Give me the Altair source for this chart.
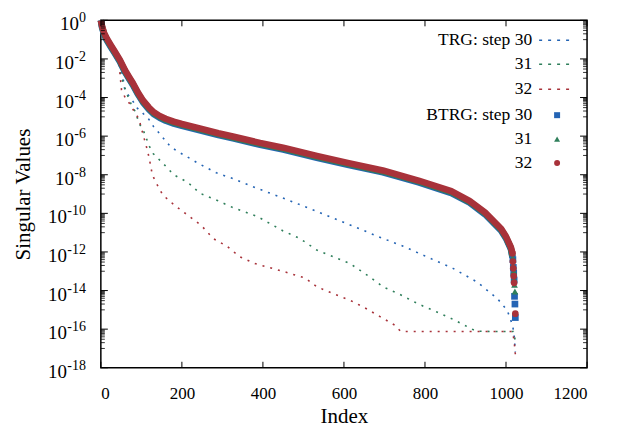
import altair as alt
import pandas as pd

# ---------------- data (values are log10 of singular value) ----------------
trg30_idx = [0, 3, 8, 15, 25, 34, 45, 50, 55, 58, 65, 80, 90, 100, 116, 130, 150, 172, 190, 207, 244, 285,
             326, 385, 449, 533, 615, 696, 746, 788, 869, 928, 978, 1002, 1010, 1017, 1020, 1023]
trg30_log = [0.0, -0.3, -0.65, -0.95, -1.3, -1.6, -2.1, -2.45, -3.0, -3.5, -3.8, -4.22, -4.55, -4.75, -5.05,
             -5.5, -6.0, -6.55, -6.8, -7.0, -7.45, -7.9, -8.2, -8.7, -9.2, -9.9, -10.6, -11.3, -11.7, -12.1,
             -12.85, -13.55, -14.4, -15.0, -15.4, -15.9, -16.3, -17.2]

trg31_idx = [0, 3, 8, 15, 25, 34, 45, 49, 56, 64, 74, 84, 96, 104, 113, 119, 129, 153, 180, 215, 244, 289,
             326, 385, 449, 491, 533, 615, 664, 696, 738, 784, 828, 870, 907, 926, 960, 1018, 1023]
trg31_log = [0.0, -0.3, -0.65, -0.95, -1.3, -1.6, -2.2, -2.75, -3.3, -3.8, -4.3, -4.7, -5.4, -5.65, -6.15,
             -6.5, -6.9, -7.4, -8.0, -8.4, -8.95, -9.35, -9.7, -10.15, -10.9, -11.3, -11.9, -12.6, -13.3,
             -13.8, -14.2, -14.7, -15.1, -15.5, -15.9, -16.1, -16.12, -16.12, -16.6]

trg32_idx = [0, 3, 8, 15, 25, 34, 45, 51, 60, 74, 84, 94, 104, 112, 119, 127, 136, 153, 183, 215, 249, 277,
             311, 343, 380, 449, 504, 533, 578, 615, 652, 689, 726, 740, 1016, 1020, 1023]
trg32_log = [0.0, -0.3, -0.65, -0.95, -1.3, -1.6, -2.3, -3.6, -4.0, -4.4, -4.8, -5.1, -5.9, -6.5, -7.1,
             -8.0, -8.4, -9.05, -9.6, -10.1, -10.65, -11.3, -11.7, -12.25, -12.6, -13.0, -13.35, -13.8,
             -14.2, -14.5, -14.9, -15.35, -15.8, -16.12, -16.12, -16.6, -17.3]

# BTRG: dense band (continuous part) ...
btrg_idx = [0, 3, 8, 15, 25, 34, 47, 60, 70, 79, 92, 104, 118, 130, 145, 160, 180, 200, 244, 290, 326,
            393, 450, 533, 612, 696, 784, 865, 910, 948, 988, 1000, 1012, 1016]
btrg30_log = [0.0, -0.38, -0.75, -1.05, -1.4, -1.7, -2.15, -2.7, -3.05, -3.35, -3.85, -4.25, -4.6, -4.85,
              -5.05, -5.2, -5.35, -5.47, -5.7, -5.95, -6.12, -6.45, -6.7, -7.12, -7.5, -7.88, -8.4, -8.95,
              -9.45, -10.05, -10.9, -11.3, -11.85, -12.3]
btrg31_log = [0.0, -0.33, -0.7, -1.0, -1.35, -1.65, -2.1, -2.65, -3.0, -3.3, -3.8, -4.2, -4.55, -4.8,
              -5.0, -5.15, -5.3, -5.42, -5.65, -5.9, -6.07, -6.4, -6.65, -7.07, -7.45, -7.83, -8.35, -8.9,
              -9.4, -10.0, -10.85, -11.25, -11.8, -12.25]
btrg32_log = [0.0, -0.3, -0.65, -0.95, -1.3, -1.6, -2.05, -2.6, -2.95, -3.25, -3.75, -4.15, -4.5, -4.75,
              -4.95, -5.1, -5.25, -5.37, -5.6, -5.85, -6.02, -6.35, -6.6, -7.02, -7.4, -7.78, -8.3, -8.85,
              -9.35, -9.95, -10.8, -11.2, -11.75, -12.07]
# ... and the separate last points
tail30_idx = [1017, 1018, 1019, 1020, 1021, 1022, 1023]
tail30_log = [-12.4, -12.8, -13.1, -13.45, -14.3, -14.7, -15.4]
tail31_idx = [1017, 1018, 1019, 1020, 1021, 1022]
tail31_log = [-12.3, -12.7, -13.0, -13.4, -13.7, -14.05]
tail32_idx = [1016, 1017, 1018, 1019, 1020, 1023]
tail32_log = [-12.07, -12.5, -12.85, -13.25, -13.6, -15.2]

x_ticks = [0, 200, 400, 600, 800, 1000, 1200]
y_ticks = [1e0, 1e-2, 1e-4, 1e-6, 1e-8, 1e-10, 1e-12, 1e-14, 1e-16, 1e-18]
y_tick_exps = ["0", "-2", "-4", "-6", "-8", "-10", "-12", "-14", "-16", "-18"]
y_minor = [k * 10.0 ** m for m in range(-1, -18, -2) for k in range(1, 10)]
legend_labels = ["TRG: step 30", "31", "32", "BTRG: step 30", "31", "32"]

# ---------------- styling ----------------
BLUE, GREEN, RED = "#2464b4", "#2f7f5b", "#a8323a"
FONT = "Liberation Serif"
W, H = 487, 348

def df(idx, logs):
    return pd.DataFrame({"Index": idx, "sv": [10.0 ** v for v in logs]})

xs = alt.Scale(domain=[0, 1200], nice=False, zero=False)
ys = alt.Scale(type="log", domain=[1e-18, 1], nice=False)

X = alt.X("Index:Q", scale=xs, axis=alt.Axis(values=x_ticks, format="d", title="Index", ticks=False,
                                             domain=False, grid=False, labelPadding=18, titlePadding=4))
Y = alt.Y("sv:Q", scale=ys, axis=alt.Axis(values=y_ticks, title="Singular Values", ticks=False,
                                         domain=False, grid=False, labels=False, titlePadding=67))

layers = []
# TRG dotted lines
for ix, lg, c in [(trg30_idx, trg30_log, BLUE), (trg31_idx, trg31_log, GREEN), (trg32_idx, trg32_log, RED)]:
    layers.append(alt.Chart(df(ix, lg)).mark_line(color=c, strokeWidth=1.6, strokeDash=[2, 6])
                  .encode(x=X, y=Y))
# BTRG thick bands
for lg, c in [(btrg30_log, BLUE), (btrg31_log, GREEN), (btrg32_log, RED)]:
    layers.append(alt.Chart(df(btrg_idx, lg)).mark_line(color=c, strokeWidth=6.5, strokeJoin="round")
                  .encode(x=X, y=Y))
# BTRG tail markers
for ix, lg, c, shp in [(tail30_idx, tail30_log, BLUE, "square"), (tail31_idx, tail31_log, GREEN, "triangle-up"),
                       (tail32_idx, tail32_log, RED, "circle")]:
    layers.append(alt.Chart(df(ix, lg)).mark_point(color=c, shape=shp, filled=True, opacity=1, size=45)
                  .encode(x=X, y=Y))

# frame ticks (inward, mirrored)
xt = pd.DataFrame({"Index": x_ticks})
layers.append(alt.Chart(xt).mark_rule(color="black", strokeWidth=1).encode(x=X, y=alt.value(H), y2=alt.value(H - 6)))
layers.append(alt.Chart(xt).mark_rule(color="black", strokeWidth=1).encode(x=X, y=alt.value(0), y2=alt.value(6)))
yt = pd.DataFrame({"sv": y_ticks, "exp": y_tick_exps})
ym = pd.DataFrame({"sv": y_minor})
layers.append(alt.Chart(yt).mark_rule(color="black", strokeWidth=1).encode(y=Y, x=alt.value(0), x2=alt.value(7)))
layers.append(alt.Chart(yt).mark_rule(color="black", strokeWidth=1).encode(y=Y, x=alt.value(W - 7), x2=alt.value(W)))
layers.append(alt.Chart(ym).mark_rule(color="black", strokeWidth=0.8).encode(y=Y, x=alt.value(0), x2=alt.value(4)))
layers.append(alt.Chart(ym).mark_rule(color="black", strokeWidth=0.8).encode(y=Y, x=alt.value(W - 4), x2=alt.value(W)))

# y tick labels: "10" with a raised exponent
for n, w in [(1, 7), (2, 12), (3, 19)]:
    layers.append(alt.Chart(yt).transform_filter(f"length(datum.exp) == {n}").mark_text(
        align="right", baseline="alphabetic", dy=10, font=FONT, fontSize=19, color="black")
        .encode(y=Y, x=alt.value(-15 - w), text=alt.value("10")))
layers.append(alt.Chart(yt).mark_text(align="right", baseline="alphabetic", dy=2, font=FONT, fontSize=14,
                                      color="black")
              .encode(y=Y, x=alt.value(-15), text="exp:N"))

# legend
rows_y = [20, 44, 69, 95, 119, 143]
for i, lab in enumerate(legend_labels):
    layers.append(alt.Chart(pd.DataFrame({"label": [lab]})).mark_text(
        align="right", baseline="middle", font=FONT, fontSize=17.5, color="black")
        .encode(x=alt.value(432), y=alt.value(rows_y[i]), text="label:N"))
for i, c in enumerate([BLUE, GREEN, RED]):
    layers.append(alt.Chart(pd.DataFrame({"k": [0]})).mark_rule(color=c, strokeWidth=1.6, strokeDash=[3, 6])
                  .encode(x=alt.value(439), x2=alt.value(470), y=alt.value(rows_y[i])))
for i, (c, shp) in enumerate([(BLUE, "square"), (GREEN, "triangle-up"), (RED, "circle")]):
    layers.append(alt.Chart(pd.DataFrame({"k": [0]})).mark_point(color=c, shape=shp, filled=True, opacity=1,
                                                                 size=36)
                  .encode(x=alt.value(457), y=alt.value(rows_y[i + 3])))

chart = alt.layer(*layers).properties(
    width=W, height=H,
    autosize=alt.AutoSizeParams(type="none"),
    padding={"left": 93, "top": 12, "right": 30, "bottom": 64},
).configure_view(stroke="black", strokeWidth=1.5).configure_axis(
    labelFont=FONT, titleFont=FONT, labelFontSize=17, titleFontSize=21, titleFontWeight="normal",
    labelColor="black", titleColor="black",
)

chart.save("out.html", embed_options={"renderer": "svg", "actions": False})
